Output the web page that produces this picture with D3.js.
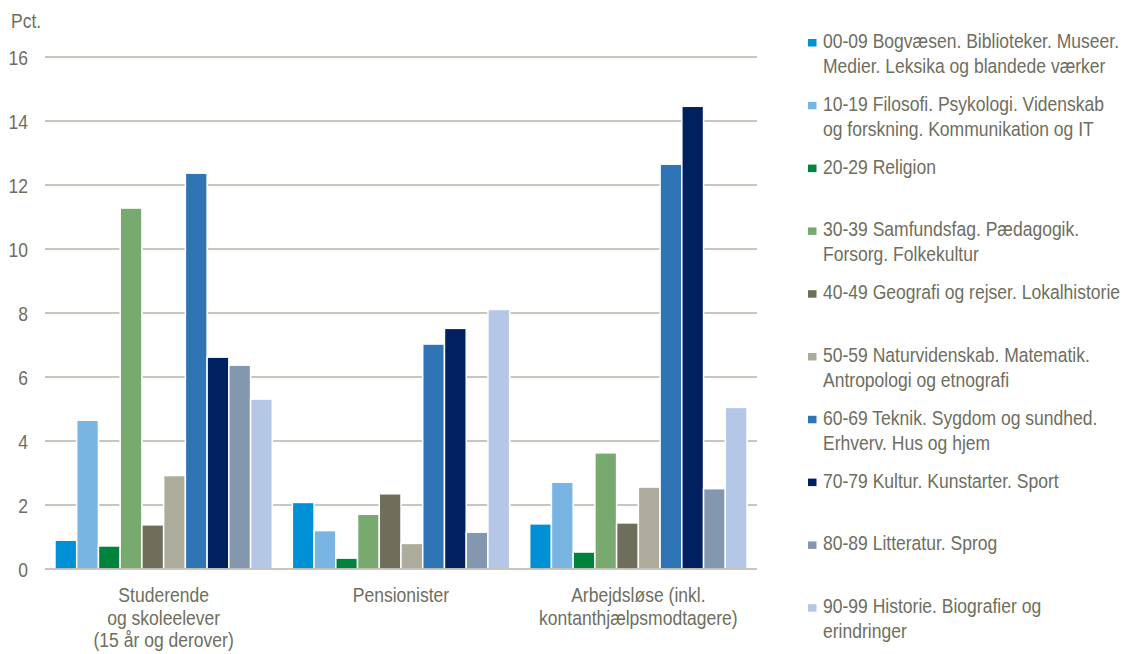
<!DOCTYPE html>
<html>
<head>
<meta charset="utf-8">
<script src="https://cdn.jsdelivr.net/npm/d3@7"></script>
<style>
  body { margin: 0; background: #fff; }
  svg text { fill: #6e6e60; }
</style>
</head>
<body>
<svg id="chart" width="1123" height="654"></svg>
<script>
// categories (x axis groups), lines of each label
const groups = ["Studerende", "Pensionister", "Arbejdsløse"];
const groupLabels = [
  ["Studerende", "og skoleelever", "(15 år og derover)"],
  ["Pensionister"],
  ["Arbejdsløse (inkl.", "kontanthjælpsmodtagere)"]
];

// series names (legend), lines of each label
const seriesLabels = [
  ["00-09 Bogvæsen. Biblioteker. Museer.", "Medier. Leksika og blandede værker"],
  ["10-19 Filosofi. Psykologi. Videnskab", "og forskning. Kommunikation og IT"],
  ["20-29 Religion"],
  ["30-39 Samfundsfag. Pædagogik.", "Forsorg. Folkekultur"],
  ["40-49 Geografi og rejser. Lokalhistorie"],
  ["50-59 Naturvidenskab. Matematik.", "Antropologi og etnografi"],
  ["60-69 Teknik. Sygdom og sundhed.", "Erhverv. Hus og hjem"],
  ["70-79 Kultur. Kunstarter. Sport"],
  ["80-89 Litteratur. Sprog"],
  ["90-99 Historie. Biografier og", "erindringer"]
];
const seriesColors = ["#0090d5", "#78b5e3", "#00843d", "#78aa6f", "#6e6e5b",
  "#adab9b", "#2f74b5", "#00205f", "#8397b0", "#b4c7e7"];

// values per group, one per series (pct.)
const studerende   = [0.9, 4.65, 0.72, 11.28, 1.38, 2.92, 12.37, 6.62, 6.37, 5.31];
const pensionister = [2.08, 1.2, 0.34, 1.71, 2.35, 0.8, 7.03, 7.52, 1.15, 8.11];
const arbejdsloese = [1.41, 2.71, 0.53, 3.63, 1.44, 2.56, 12.65, 14.46, 2.51, 5.05];
const values = [studerende, pensionister, arbejdsloese];

const yTicks = [0, 2, 4, 6, 8, 10, 12, 14, 16];

// narrow look: Liberation Sans squeezed horizontally
const fontFamily = "'Liberation Sans', Arial, sans-serif";
const fontSize = 20.5;
const squeeze = 0.855;

function addText(sel, x, y, str, anchor) {
  return sel.append("text")
    .attr("font-family", fontFamily)
    .attr("font-size", fontSize)
    .attr("text-anchor", anchor || "start")
    .attr("transform", "translate(" + x + "," + y + ") scale(" + squeeze + ",1)")
    .text(str);
}

const svg = d3.select("#chart");
const plotLeft = 45, plotRight = 757, plotTop = 57, plotBottom = 569;

const y = d3.scaleLinear().domain([0, 16]).range([plotBottom, plotTop]);
const x0 = d3.scaleBand().domain(groups).range([plotLeft, plotRight])
  .paddingInner(0.0843).paddingOuter(0.042);
const x1 = d3.scaleBand().domain(d3.range(seriesLabels.length))
  .range([0, x0.bandwidth()]);

// gridlines
svg.append("g").selectAll("line")
  .data(yTicks.filter(d => d > 0))
  .enter().append("line")
  .attr("x1", plotLeft).attr("x2", plotRight)
  .attr("y1", d => y(d)).attr("y2", d => y(d))
  .attr("stroke", "#b6b4a8").attr("stroke-width", 1.4);

// y tick labels
const yl = svg.append("g");
yTicks.forEach(d => addText(yl, 28, y(d) + 7.5, d, "end"));
addText(svg, 11, 28, "Pct.", "start");

// bars
const gs = svg.append("g").selectAll("g")
  .data(values)
  .enter().append("g")
  .attr("transform", (d, i) => "translate(" + x0(groups[i]) + ",0)");

gs.selectAll("rect")
  .data(d => d)
  .enter().append("rect")
  .attr("x", (d, i) => x1(i))
  .attr("width", x1.bandwidth())
  .attr("y", d => y(d))
  .attr("height", d => y(0) - y(d))
  .attr("fill", (d, i) => seriesColors[i])
  .attr("stroke", "#fff")
  .attr("stroke-width", 1.5);

// baseline
svg.append("line")
  .attr("x1", plotLeft).attr("x2", plotRight)
  .attr("y1", y(0)).attr("y2", y(0))
  .attr("stroke", "#b6b4a8").attr("stroke-width", 1.6);

// category labels
const xl = svg.append("g");
groups.forEach((g, i) => {
  const cx = x0(g) + x0.bandwidth() / 2;
  groupLabels[i].forEach((line, j) => addText(xl, cx, 602 + j * 22.5, line, "middle"));
});

// legend
const lg = svg.append("g");
seriesLabels.forEach((lines, i) => {
  const by = 48 + i * 62.8;
  lg.append("rect")
    .attr("x", 808).attr("y", by - 9)
    .attr("width", 8.5).attr("height", 7.5)
    .attr("fill", seriesColors[i]);
  lines.forEach((line, j) => addText(lg, 823, by + j * 25, line, "start"));
});
</script>
</body>
</html>
